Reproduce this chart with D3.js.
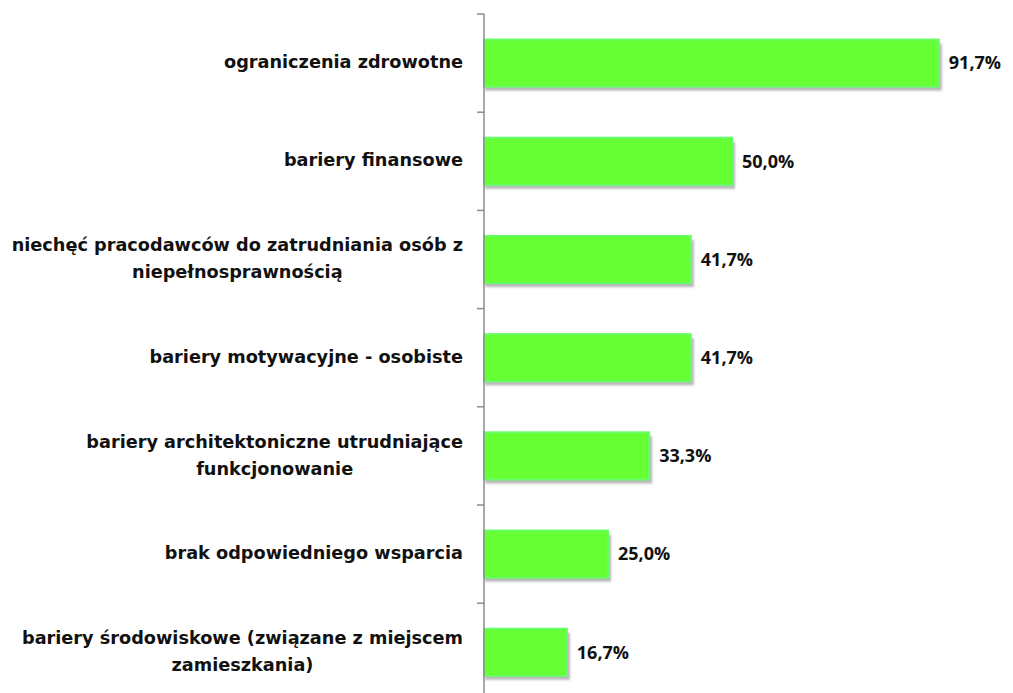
<!DOCTYPE html>
<html>
<head>
<meta charset="utf-8">
<script src="https://cdn.jsdelivr.net/npm/d3@7"></script>
<style>
  body { margin: 0; background: #fff; }
  .label { font-family: "DejaVu Sans", sans-serif; font-weight: bold; font-size: 17.7px; fill: #111; }
  .value { font-family: "Open Sans", sans-serif; font-weight: bold; font-size: 18px; fill: #111; }
</style>
</head>
<body>
<div class="container"></div>
<script>
const WIDTH = 1013;
const HEIGHT = 693;

// each category is a list of lines as wrapped in the picture
var categories = [
    ["ograniczenia zdrowotne"],
    ["bariery finansowe"],
    ["niechęć pracodawców do zatrudniania osób z", "niepełnosprawnością"],
    ["bariery motywacyjne - osobiste"],
    ["bariery architektoniczne utrudniające", "funkcjonowanie"],
    ["brak odpowiedniego wsparcia"],
    ["bariery środowiskowe (związane z miejscem", "zamieszkania)"]
];
var values = [91.7, 50.0, 41.7, 41.7, 33.3, 25.0, 16.7];
var valueLabels = ["91,7%", "50,0%", "41,7%", "41,7%", "33,3%", "25,0%", "16,7%"];

var AXIS_X = 484;
var TOP = 14;
var STEP = 98.2;

var svg = d3.select('.container').append('svg')
    .attr('width', WIDTH)
    .attr('height', HEIGHT);

var defs = svg.append('defs');
defs.append('filter').attr('id', 'blur')
    .append('feGaussianBlur').attr('stdDeviation', 1.2);

var idx = d3.range(categories.length);

let yScale = d3.scaleBand()
    .domain(idx)
    .range([TOP, TOP + STEP * categories.length])
    .paddingInner(0.52)
    .paddingOuter(0.26);

let xScale = d3.scaleLinear()
    .domain([0, 100])
    .range([AXIS_X, AXIS_X + 496]);

var g = svg.append('g');

// shadows
g.selectAll('rect.shadow').data(idx).enter()
    .append('rect')
    .classed('shadow', true)
    .attr('x', xScale(0) + 1)
    .attr('y', (i) => yScale(i) + 4)
    .attr('width', (i) => xScale(values[i]) - xScale(0) + 2)
    .attr('height', yScale.bandwidth())
    .attr('fill', '#9a9a9a')
    .attr('opacity', 0.7)
    .attr('filter', 'url(#blur)');

// bars
g.selectAll('rect.bar').data(idx).enter()
    .append('rect')
    .classed('bar', true)
    .attr('x', xScale(0))
    .attr('y', (i) => yScale(i))
    .attr('width', (i) => xScale(values[i]) - xScale(0))
    .attr('height', yScale.bandwidth())
    .attr('fill', '#66ff33')
    .attr('stroke', '#66ff66')
    .attr('stroke-width', 2);

// value labels
g.selectAll('text.value').data(idx).enter()
    .append('text')
    .classed('value', true)
    .attr('x', (i) => xScale(values[i]) + 10)
    .attr('y', (i) => yScale(i) + yScale.bandwidth() / 2)
    .attr('dy', '0.35em')
    .text((i) => valueLabels[i]);

// axis line with ticks at band boundaries
svg.append('line')
    .attr('x1', AXIS_X).attr('x2', AXIS_X)
    .attr('y1', TOP).attr('y2', HEIGHT)
    .attr('stroke', '#8c8c8c')
    .attr('stroke-width', 1.5);

svg.selectAll('line.tick').data(d3.range(categories.length + 1)).enter()
    .append('line')
    .classed('tick', true)
    .attr('x1', AXIS_X - 7).attr('x2', AXIS_X)
    .attr('y1', (i) => TOP + i * yScale.step())
    .attr('y2', (i) => TOP + i * yScale.step())
    .attr('stroke', '#8c8c8c')
    .attr('stroke-width', 1.5);

// category labels: lines centred on each other, block right aligned
var LINE_H = 27;
var RIGHT = 463;
idx.forEach(function(i) {
    var lines = categories[i];
    var cy = yScale(i) + yScale.bandwidth() / 2 - 1;
    var t = svg.append('text').classed('label', true);
    lines.forEach(function(l, k) {
        t.append('tspan')
            .attr('y', cy + (k - (lines.length - 1) / 2) * LINE_H)
            .attr('dy', '0.35em')
            .text(l);
    });
    var widths = [];
    t.selectAll('tspan').each(function() { widths.push(this.getComputedTextLength()); });
    var maxW = d3.max(widths);
    var centre = RIGHT - maxW / 2;
    t.attr('text-anchor', 'middle');
    t.selectAll('tspan').attr('x', centre);
});
</script>
</body>
</html>
